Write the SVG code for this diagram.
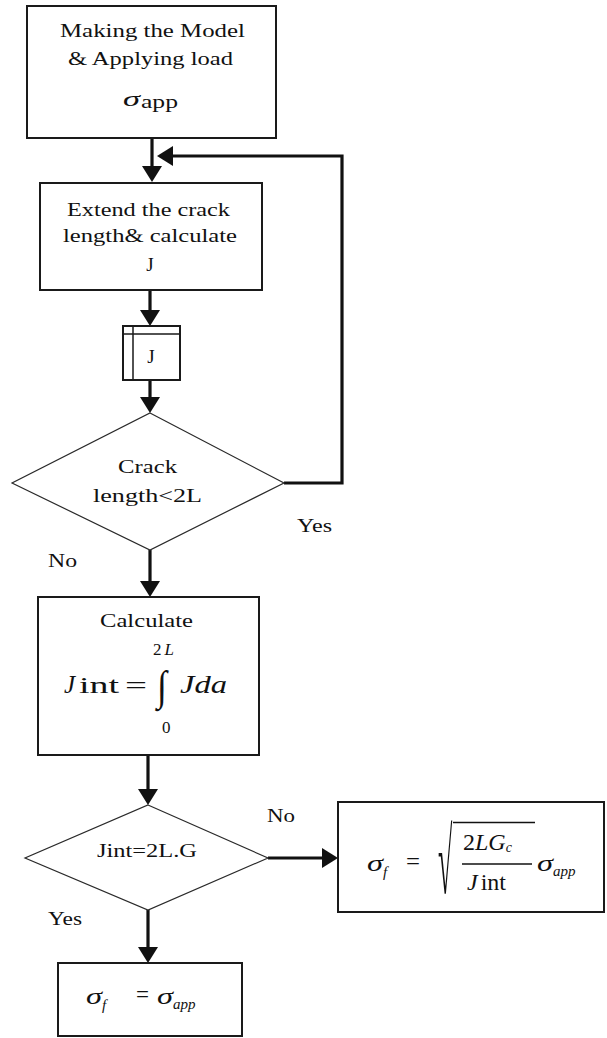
<svg xmlns="http://www.w3.org/2000/svg" width="607" height="1038" viewBox="0 0 607 1038">
  <style>
    .box { fill: #fff; stroke: #1a1a1a; stroke-width: 2; }
    .dia { fill: #fff; stroke: #2a2a2a; stroke-width: 1.2; }
    .conn { fill: none; stroke: #111; stroke-width: 3.2; }
    .t { font-family: "Liberation Serif", "Times New Roman", serif; font-size: 19px; fill: #111; }
    .m { font-family: "Liberation Serif", "Times New Roman", serif; fill: #111; }
    .mi { font-family: "Liberation Serif", "Times New Roman", serif; font-style: italic; fill: #111; }
  </style>
  <defs>
    <marker id="head" markerUnits="userSpaceOnUse" viewBox="0 0 16 20" refX="10" refY="10" markerWidth="16" markerHeight="20" orient="auto">
      <path d="M0,0 L16,10 L0,20 Z" fill="#111"/>
    </marker>
  </defs>
  <rect width="607" height="1038" fill="#fff"/>

  <!-- connectors -->
  <g id="connectors">
    <path class="conn" d="M152,138 V176" marker-end="url(#head)"/>
    <path class="conn" d="M284,483 H342 V156 H163" marker-end="url(#head)"/>
    <path class="conn" d="M150,290 V320" marker-end="url(#head)"/>
    <path class="conn" d="M150,380 V407" marker-end="url(#head)"/>
    <path class="conn" d="M150,550 V591" marker-end="url(#head)"/>
    <path class="conn" d="M148,755 V799" marker-end="url(#head)"/>
    <path class="conn" d="M148,910 V957" marker-end="url(#head)"/>
    <path class="conn" d="M268,858 H332" marker-end="url(#head)"/>
  </g>

  <!-- start: build model and load -->
  <g id="model">
    <rect class="box" x="27" y="6" width="249" height="132"/>
    <text class="t" x="60" y="37" textLength="185" lengthAdjust="spacingAndGlyphs">Making the Model</text>
    <text class="t" x="68" y="65" textLength="165" lengthAdjust="spacingAndGlyphs">&amp; Applying load</text>
    <text class="mi" x="123" y="106" font-size="22" textLength="17" lengthAdjust="spacingAndGlyphs">σ</text>
    <text class="m" x="141" y="108" font-size="18" textLength="37" lengthAdjust="spacingAndGlyphs">app</text>
  </g>

  <!-- extend crack, compute J -->
  <g id="extend">
    <rect class="box" x="40" y="183" width="222" height="107"/>
    <text class="t" x="67" y="216" textLength="163" lengthAdjust="spacingAndGlyphs">Extend the crack</text>
    <text class="t" x="63" y="242" textLength="174" lengthAdjust="spacingAndGlyphs">length&amp; calculate</text>
    <text class="t" x="150" y="271" text-anchor="middle">J</text>
  </g>

  <!-- stored J values -->
  <g id="store">
    <rect class="box" x="123" y="326" width="57" height="54"/>
    <path d="M133,326 V380 M123,334 H180" fill="none" stroke="#1a1a1a" stroke-width="1.5"/>
    <text class="t" x="151" y="363" text-anchor="middle">J</text>
  </g>

  <!-- decision: crack length -->
  <g id="check-length">
    <polygon class="dia" points="150,413 284,483 150,550 12,483"/>
    <text class="t" x="118" y="473" textLength="59" lengthAdjust="spacingAndGlyphs">Crack</text>
    <text class="t" x="93" y="502" textLength="109" lengthAdjust="spacingAndGlyphs">length&lt;2L</text>
  </g>

  <text class="t" x="297" y="532" textLength="35" lengthAdjust="spacingAndGlyphs">Yes</text>
  <text class="t" x="48" y="567" textLength="29" lengthAdjust="spacingAndGlyphs">No</text>

  <!-- integrate J over crack length -->
  <g id="integrate">
    <rect class="box" x="38" y="597" width="221" height="158"/>
    <text class="t" x="100" y="627" textLength="93" lengthAdjust="spacingAndGlyphs">Calculate</text>
    <text class="m" x="153" y="655" font-size="17">2<tspan font-style="italic" dx="3">L</tspan></text>
    <text class="mi" x="64" y="693" font-size="25">J</text>
    <text class="m" x="79" y="693" font-size="24" textLength="40" lengthAdjust="spacingAndGlyphs">int</text>
    <text class="m" x="125" y="693" font-size="24" textLength="22" lengthAdjust="spacingAndGlyphs">=</text>
    <text class="m" x="0" y="0" font-size="40" transform="translate(157,700) scale(0.9,1.05)">∫</text>
    <text class="mi" x="180" y="693" font-size="25" textLength="47" lengthAdjust="spacingAndGlyphs">Jda</text>
    <text class="m" x="162" y="733" font-size="17">0</text>
  </g>

  <!-- decision: Jint vs 2L.G -->
  <g id="check-jint">
    <polygon class="dia" points="148,805 268,858 148,910 25,858"/>
    <text class="t" x="97" y="857" textLength="100" lengthAdjust="spacingAndGlyphs">Jint=2L.G</text>
  </g>

  <text class="t" x="267" y="822" textLength="28" lengthAdjust="spacingAndGlyphs">No</text>
  <text class="t" x="48" y="925" textLength="34" lengthAdjust="spacingAndGlyphs">Yes</text>

  <!-- scaled failure stress -->
  <g id="scaled-stress">
    <rect class="box" x="338" y="802" width="266" height="110"/>
    <text class="mi" x="367" y="871" font-size="24" textLength="16" lengthAdjust="spacingAndGlyphs">σ</text>
    <text class="mi" x="383" y="877" font-size="15">f</text>
    <text class="m" x="406" y="869" font-size="24" textLength="14" lengthAdjust="spacingAndGlyphs">=</text>
    <text class="m" x="0" y="0" font-size="40" transform="translate(438,893) scale(0.65,2.3)">√</text>
    <line x1="453" y1="822.5" x2="535" y2="822.5" stroke="#111" stroke-width="1.5"/>
    <text class="m" x="463" y="850" font-size="24">2<tspan font-style="italic">LG</tspan><tspan font-style="italic" font-size="14" dy="2">c</tspan></text>
    <line x1="462" y1="864" x2="532" y2="864" stroke="#111" stroke-width="1.5"/>
    <text class="mi" x="467" y="890" font-size="24">J<tspan font-style="normal" dx="3">int</tspan></text>
    <text class="mi" x="537" y="871" font-size="24" textLength="16" lengthAdjust="spacingAndGlyphs">σ</text>
    <text class="mi" x="553" y="876" font-size="15">app</text>
  </g>

  <!-- failure stress equals applied -->
  <g id="equal-stress">
    <rect class="box" x="58" y="963" width="184" height="73"/>
    <text class="mi" x="86" y="1004" font-size="24" textLength="16" lengthAdjust="spacingAndGlyphs">σ</text>
    <text class="mi" x="102" y="1010" font-size="15">f</text>
    <text class="m" x="136" y="1002" font-size="24" textLength="13" lengthAdjust="spacingAndGlyphs">=</text>
    <text class="mi" x="157" y="1004" font-size="24" textLength="16" lengthAdjust="spacingAndGlyphs">σ</text>
    <text class="mi" x="173" y="1009" font-size="15">app</text>
  </g>
</svg>
